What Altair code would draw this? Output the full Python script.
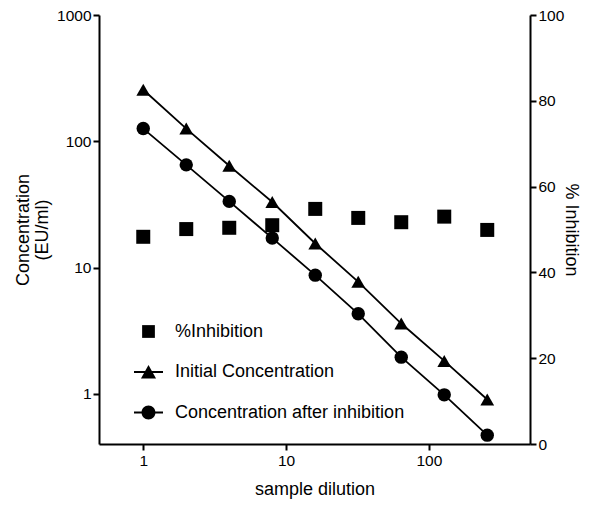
import altair as alt
import pandas as pd

dilution = [1, 2, 4, 8, 16, 32, 64, 128, 256]
initial_conc = [256, 126, 64, 33, 15.5, 7.7, 3.6, 1.82, 0.90]
after_conc = [126, 65, 33.4, 17.1, 8.7, 4.3, 1.95, 0.98, 0.47]
inhibition = [48.3, 50.1, 50.4, 51.0, 54.8, 52.7, 51.7, 53.0, 49.9]

series_names = ["%Inhibition", "Initial Concentration", "Concentration after inhibition"]

conc = pd.DataFrame({
    "dilution": dilution * 2,
    "value": initial_conc + after_conc,
    "series": [series_names[1]] * len(dilution) + [series_names[2]] * len(dilution),
})
inh = pd.DataFrame({"dilution": dilution, "inhibition": inhibition, "series": series_names[0]})

FONT = "Liberation Sans"

x = alt.X("dilution:Q",
          scale=alt.Scale(type="log", domain=[0.49, 510], nice=False),
          axis=alt.Axis(values=[1, 10, 100], title="sample dilution",
                        labelExpr="datum.value", titlePadding=12, labelPadding=3))
y_left = alt.Y("value:Q",
               scale=alt.Scale(type="log", domain=[0.4, 1000], nice=False),
               axis=alt.Axis(values=[1, 10, 100, 1000], title=["Concentration", "(EU/ml)"],
                             orient="left", labelExpr="datum.value", titlePadding=5,
                             titleLineHeight=19))

base = alt.Chart(conc)

lines = base.mark_line(color="black", strokeWidth=1.8).encode(
    x=x, y=y_left, detail="series:N")

tri = base.transform_filter(alt.datum.series == series_names[1]).mark_point(
    shape="triangle-up", filled=True, color="black", size=190, opacity=1).encode(x=x, y=y_left)
circ = base.transform_filter(alt.datum.series == series_names[2]).mark_point(
    shape="circle", filled=True, color="black", size=180, opacity=1).encode(x=x, y=y_left)

# legend symbols: filled shapes with a thin filled bar standing for the line
legend_paths = [
    "M-0.44,-0.44H0.44V0.44H-0.44Z",
    "M-1,-0.065H1V0.065H-1ZM0,-0.48L0.52,0.44H-0.52Z",
    "M-1,-0.065H1V0.065H-1ZM-0.48,0A0.48,0.48,0,1,1,0.48,0A0.48,0.48,0,1,1,-0.48,0Z",
]
legend_layer = base.mark_point(filled=True, color="black", opacity=0).encode(
    x=x, y=y_left,
    shape=alt.Shape("series:N",
                    scale=alt.Scale(domain=series_names, range=legend_paths),
                    legend=alt.Legend(title=None, orient="none", legendX=34, legendY=301,
                                      symbolSize=841, symbolFillColor="black",
                                      symbolOpacity=1, labelFontSize=18, labelFont=FONT,
                                      labelColor="black", labelOffset=11, rowPadding=15.5,
                                      labelLimit=400, padding=0)),
)

left = alt.layer(lines, tri, circ, legend_layer)

squares = alt.Chart(inh).mark_point(shape="square", filled=True, color="black", size=196, opacity=1).encode(
    x=x,
    y=alt.Y("inhibition:Q", scale=alt.Scale(domain=[0, 100], nice=False),
            axis=alt.Axis(values=[0, 20, 40, 60, 80, 100], title="% Inhibition",
                          orient="right", titlePadding=-2)),
)

chart = alt.layer(left, squares).resolve_scale(y="independent").properties(
    width=431, height=429,
    padding={"left": 91, "top": 7, "right": 62, "bottom": 55},
    autosize=alt.AutoSizeParams(type="none"),
).configure_view(stroke=None).configure_axis(
    grid=False, domainColor="black", domainWidth=2, tickColor="black", tickWidth=2,
    tickSize=6, labelFont=FONT, labelFontSize=15.5, labelColor="black", labelPadding=2,
    titleFont=FONT, titleFontSize=18, titleFontWeight="normal", titleColor="black",
)

chart.save("out.html", embed_options={"renderer": "svg", "actions": False})
